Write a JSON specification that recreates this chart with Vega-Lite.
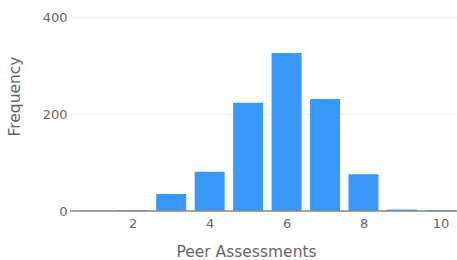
{
  "$schema": "https://vega.github.io/schema/vega-lite/v6.json",
  "width": 387,
  "height": 194,
  "autosize": {"type": "none"},
  "padding": {"left": 70, "top": 17, "right": 0, "bottom": 49},
  "background": "white",
  "config": {"view": {"stroke": null}, "font": "DejaVu Sans"},
  "data": {"values": [
    {"score": 1, "count": 1},
    {"score": 2, "count": 2},
    {"score": 3, "count": 35},
    {"score": 4, "count": 81},
    {"score": 5, "count": 223},
    {"score": 6, "count": 326},
    {"score": 7, "count": 231},
    {"score": 8, "count": 76},
    {"score": 9, "count": 3},
    {"score": 10, "count": 2}
  ]},
  "layer": [
    {
      "mark": {"type": "bar", "color": "#3a98fb", "size": 30, "clip": true},
      "encoding": {
        "x": {"field": "score", "type": "quantitative", "scale": {"domain": [0.5, 10.3], "nice": false, "zero": false},
          "axis": {"values": [2, 4, 6, 8, 10], "title": "Peer Assessments", "domain": false, "ticks": false, "grid": false,
            "labelColor": "#666", "labelFontSize": 13, "labelPadding": 6, "titleColor": "#666", "titleFontSize": 15.5, "titleFontWeight": "normal", "titlePadding": 14, "titleX": 176}},
        "y": {"field": "count", "type": "quantitative", "scale": {"domain": [0, 400], "nice": false},
          "axis": {"values": [0, 200, 400], "title": "Frequency", "domain": false, "ticks": false, "grid": true, "gridColor": "#eeeeee",
            "labelColor": "#666", "labelFontSize": 13, "labelPadding": 3, "titleColor": "#666", "titleFontSize": 15.5, "titleFontWeight": "normal", "titlePadding": 20, "titleY": 79}}
      }
    },
    {
      "data": {"values": [{"y": 0}]},
      "mark": {"type": "rule", "color": "#888", "strokeWidth": 1.5},
      "encoding": {"y": {"field": "y", "type": "quantitative"}}
    }
  ]
}
